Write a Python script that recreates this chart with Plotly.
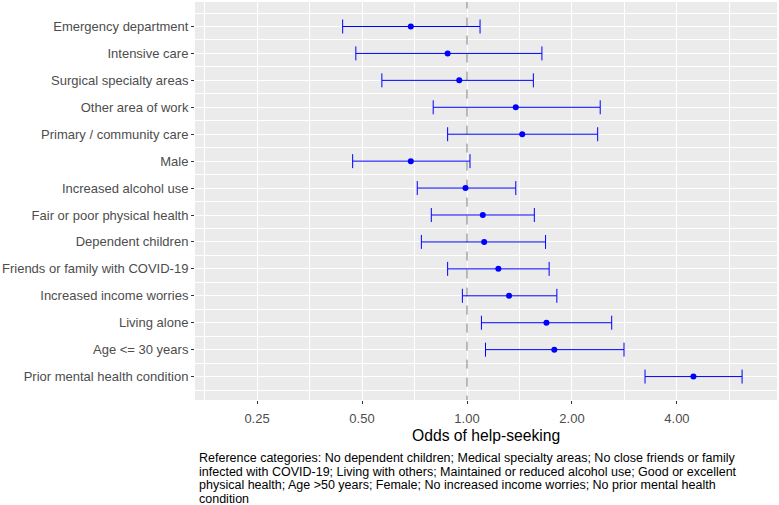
import plotly.graph_objects as go

# odds ratios with 95% CIs
labels = [
    "Emergency department", "Intensive care", "Surgical specialty areas",
    "Other area of work", "Primary / community care", "Male",
    "Increased alcohol use", "Fair or poor physical health", "Dependent children",
    "Friends or family with COVID-19", "Increased income worries", "Living alone",
    "Age <= 30 years", "Prior mental health condition",
]
odds = [0.69, 0.88, 0.95, 1.38, 1.44, 0.69, 0.99, 1.11, 1.12, 1.23, 1.32, 1.69, 1.78, 4.46]
lower = [0.44, 0.48, 0.57, 0.80, 0.88, 0.47, 0.72, 0.79, 0.74, 0.88, 0.97, 1.10, 1.13, 3.24]
upper = [1.09, 1.64, 1.55, 2.41, 2.37, 1.02, 1.38, 1.56, 1.68, 1.72, 1.81, 2.60, 2.82, 6.15]
null_odds = 1

x_ticks = [0.25, 0.5, 1, 2, 4]
x_ticktext = ["0.25", "0.50", "1.00", "2.00", "4.00"]
x_minor = [0.177, 0.354, 0.707, 1.414, 2.828, 5.657]

caption_lines = [
    "Reference categories: No dependent children; Medical specialty areas; No close friends or family",
    "infected with COVID-19; Living with others; Maintained or reduced alcohol use; Good or excellent",
    "physical health; Age >50 years; Female; No increased income worries; No prior mental health",
    "condition",
]

pos = list(range(1, len(labels) + 1))
font = "Liberation Sans, Arial, sans-serif"

fig = go.Figure()

# dashed reference line at OR = 1, drawn first so the bars sit on top
fig.add_trace(go.Scatter(
    x=[null_odds, null_odds], y=[0, len(labels) + 1], mode="lines",
    line=dict(color="#7F7F7F", width=1, dash="dash"),
    hoverinfo="skip", showlegend=False,
))

fig.add_trace(go.Scatter(
    x=odds, y=pos, mode="markers",
    marker=dict(color="blue", size=6),
    error_x=dict(type="data", symmetric=False,
                 array=[u - o for u, o in zip(upper, odds)],
                 arrayminus=[o - l for o, l in zip(odds, lower)],
                 color="blue", thickness=1, width=7),
    showlegend=False,
))

annotations = [
    dict(text="Odds of help-seeking", xref="paper", yref="paper",
         x=0.5, y=-0.0885, xanchor="center", yanchor="middle",
         showarrow=False, font=dict(size=15.7, color="black")),
]
for i, line in enumerate(caption_lines):
    annotations.append(dict(
        text=line, xref="paper", yref="paper", align="left",
        x=0.003, y=-0.146 - i * 0.0339, xanchor="left", yanchor="middle",
        showarrow=False, font=dict(size=12.5, color="black")))

fig.update_layout(
    width=779, height=505,
    margin=dict(l=195, r=2, t=2, b=105),
    plot_bgcolor="#EBEBEB", paper_bgcolor="white",
    font=dict(family=font, color="#4D4D4D", size=13),
    xaxis=dict(
        type="log", range=[-0.780, 0.889],
        tickmode="array", tickvals=x_ticks, ticktext=x_ticktext,
        showgrid=True, gridcolor="white", gridwidth=1.1,
        minor=dict(tickmode="array", tickvals=x_minor, showgrid=True,
                   gridcolor="white", gridwidth=0.5, ticks=""),
        ticks="outside", ticklen=3, tickcolor="#333333", ticklabelstandoff=3,
        zeroline=False, showline=False,
    ),
    yaxis=dict(
        range=[14.87, 0.09],
        tickmode="array", tickvals=pos, ticktext=labels,
        showgrid=True, gridcolor="white", gridwidth=1.1,
        minor=dict(tickmode="array", tickvals=[p + 0.5 for p in [0] + pos],
                   showgrid=True, gridcolor="white", gridwidth=0.5, ticks=""),
        ticks="outside", ticklen=3, tickcolor="#333333",
        zeroline=False, showline=False,
    ),
    annotations=annotations,
)

fig.write_html("out.html", config={"displayModeBar": False},
               post_script="document.body.style.margin = '0';")
